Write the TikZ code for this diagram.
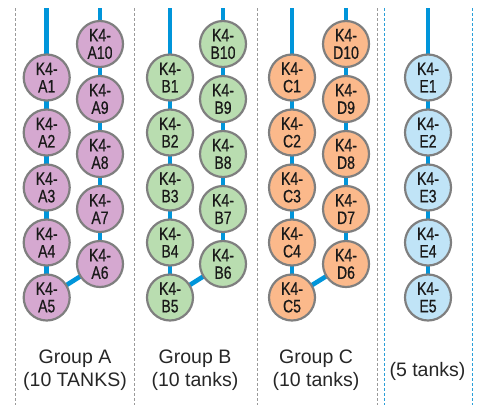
\documentclass[tikz,border=0pt]{standalone}
\usepackage{fontspec}
\setmainfont{Liberation Sans}
\newfontfamily\condfont[FakeStretch=0.78,FakeBold=0.6]{Liberation Sans}
\usetikzlibrary{backgrounds}
\definecolor{pipeblue}{HTML}{0095DA}
\definecolor{dashblue}{HTML}{2A9FD8}
\definecolor{ringgray}{HTML}{7F7F7F}
\definecolor{dashgray}{HTML}{9A9A9A}
\definecolor{fillA}{HTML}{D5A8D0}
\definecolor{fillB}{HTML}{B9DDB0}
\definecolor{fillC}{HTML}{FBB98B}
\definecolor{fillE}{HTML}{C0E4F7}
\tikzset{
  tank/.style={circle, draw=ringgray, line width=2.2pt, minimum size=46pt, inner sep=0pt,
    align=center, text=black!90, font=\condfont\fontsize{18}{17.5}\selectfont},
  pipe/.style={draw=pipeblue, line width=4.6pt},
  sep/.style={draw=dashgray, line width=0.9pt, dash pattern=on 3pt off 2pt},
  sepblue/.style={draw=dashblue, line width=0.9pt, dash pattern=on 3pt off 2pt},
  grouplabel/.style={align=center, font=\fontsize{19.5}{23.5}\selectfont, text=black!85, inner sep=0pt}
}
\begin{document}
\begin{tikzpicture}[x=1pt,y=-1pt]
\useasboundingbox (0,0) rectangle (478,405);
% separators
\draw[sep] (15,8) -- (15,405);
\draw[sep] (134.5,8) -- (134.5,405);
\draw[sep] (257,8) -- (257,405);
\draw[sep] (377,8) -- (377,405);
\draw[sepblue] (384,8) -- (384,405);
\draw[sepblue] (472.5,8) -- (472.5,405);
% tanks: left columns
\foreach \g/\x/\c in {A/46.7/fillA, B/170/fillB, C/292/fillC, E/428/fillE} {
  \foreach \i in {1,...,5} {
    \node[tank, fill=\c] (\g\i) at (\x, {77.5+55*(\i-1)}) {K4-\\\g\i};
  }
  \coordinate (top\g) at (\x, 8);
}
% tanks: right columns
\foreach \g/\x/\c in {A/100/fillA, B/223/fillB, D/346/fillC} {
  \foreach \i in {6,...,10} {
    \node[tank, fill=\c] (\g\i) at (\x, {44+55*(10-\i)}) {K4-\\\g\i};
  }
  \coordinate (topR\g) at (\x, 8);
}
\begin{pgfonlayer}{background}
  \foreach \g in {A,B,C,E} {
    \draw[pipe] (top\g) -- (\g1.center) -- (\g2.center) -- (\g3.center) -- (\g4.center) -- (\g5.center);
  }
  \foreach \g in {A,B,D} {
    \draw[pipe] (topR\g) -- (\g10.center) -- (\g9.center) -- (\g8.center) -- (\g7.center) -- (\g6.center);
  }
  \draw[pipe] (A5.center) -- (A6.center);
  \draw[pipe] (B5.center) -- (B6.center);
  \draw[pipe] (C5.center) -- (D6.center);
\end{pgfonlayer}
% labels
\node[grouplabel] (labA) at (75,370) {Group A\\(10 TANKS)};
\node[grouplabel] (labB) at (195,370) {Group B\\(10 tanks)};
\node[grouplabel] (labC) at (316,370) {Group C\\(10 tanks)};
\node[grouplabel] (labE) at (427.5,371) {(5 tanks)};
\end{tikzpicture}
\end{document}
